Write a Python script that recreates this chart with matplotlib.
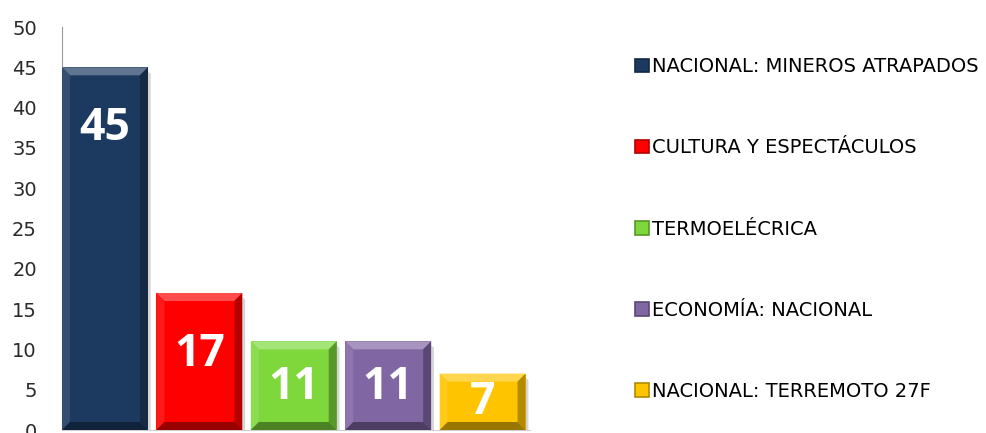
import numpy as np
import matplotlib
matplotlib.use("Agg")
import matplotlib.pyplot as plt
from matplotlib.patches import Polygon, Patch
from matplotlib.colors import to_rgb

categories = ["NACIONAL: MINEROS ATRAPADOS", "CULTURA Y ESPECTÁCULOS",
              "TERMOELÉCRICA", "ECONOMÍA: NACIONAL", "NACIONAL: TERREMOTO 27F"]
values = [45, 17, 11, 11, 7]
colors = ["#1c3a60", "#ff0000", "#7ed83c", "#8166a4", "#ffc400"]
yticks = list(range(0, 51, 5))


def mix(c, other, t):
    c = np.array(to_rgb(c))
    return tuple(c * (1 - t) + np.array(other) * t)


plt.rcParams["font.family"] = ["DejaVu Sans"]

fig = plt.figure(figsize=(9.87, 4.33), dpi=100)
ax = fig.add_axes([0.0628, 0.0069, 0.474, 0.9307])

x = np.arange(len(values))
bars = ax.bar(x, values, width=0.91, color=colors, zorder=2)
ax.set_xlim(-0.455, 4.5)
ax.set_ylim(0, 50)
ax.set_yticks(yticks)
ax.set_xticks([])
ax.tick_params(axis="y", length=0, labelsize=14, pad=18, labelcolor="#2a2a2a")
for s in ["top", "right"]:
    ax.spines[s].set_visible(False)
ax.spines["left"].set_color("#9a9a9a")
ax.spines["left"].set_linewidth(0.8)
ax.spines["bottom"].set_color("#d0d0d0")

# bevel size in data units (about 8 px)
p0 = ax.transData.transform((0, 0))
p1 = ax.transData.transform((1, 1))
dx = 8 / (p1[0] - p0[0])
dy = 8 / (p1[1] - p0[1])

for b, c in zip(bars, colors):
    x0, w, h = b.get_x(), b.get_width(), b.get_height()
    # soft shadow
    ax.add_patch(Polygon([(x0 + w, h - 0.5), (x0 + w + 0.03, h - 0.8),
                          (x0 + w + 0.03, 0), (x0 + w, 0)],
                         closed=True, color="#bbbbbb", alpha=0.6, lw=0, zorder=1))
    top = [(x0, h), (x0 + w, h), (x0 + w - dx, h - dy), (x0 + dx, h - dy)]
    right = [(x0 + w, h), (x0 + w, 0), (x0 + w - dx, dy), (x0 + w - dx, h - dy)]
    bottom = [(x0, 0), (x0 + w, 0), (x0 + w - dx, dy), (x0 + dx, dy)]
    left = [(x0, 0), (x0, h), (x0 + dx, h - dy), (x0 + dx, dy)]
    ax.add_patch(Polygon(top, closed=True, color=mix(c, (1, 1, 1), 0.3), lw=0, zorder=3))
    ax.add_patch(Polygon(left, closed=True, color=mix(c, (1, 1, 1), 0.1), lw=0, zorder=3))
    ax.add_patch(Polygon(right, closed=True, color=mix(c, (0, 0, 0), 0.3), lw=0, zorder=3))
    ax.add_patch(Polygon(bottom, closed=True, color=mix(c, (0, 0, 0), 0.4), lw=0, zorder=3))

for xi, v in zip(x, values):
    ax.text(xi, v - min(7.6, 0.52 * v), str(v), ha="center", va="center",
            color="white", fontsize=32, fontweight="bold",
            family=["Open Sans", "DejaVu Sans"], zorder=4)

handles = [Patch(facecolor=c, edgecolor=mix(c, (0, 0, 0), 0.3), linewidth=1.2)
           for c in colors]
fig.legend(handles, categories, loc="upper left", bbox_to_anchor=(0.6434, 0.868),
           frameon=False, fontsize=14, handlelength=0.7, handleheight=0.7,
           handletextpad=0.15, labelspacing=3.2, borderpad=0, borderaxespad=0)

fig.savefig("out.png", dpi=100)
